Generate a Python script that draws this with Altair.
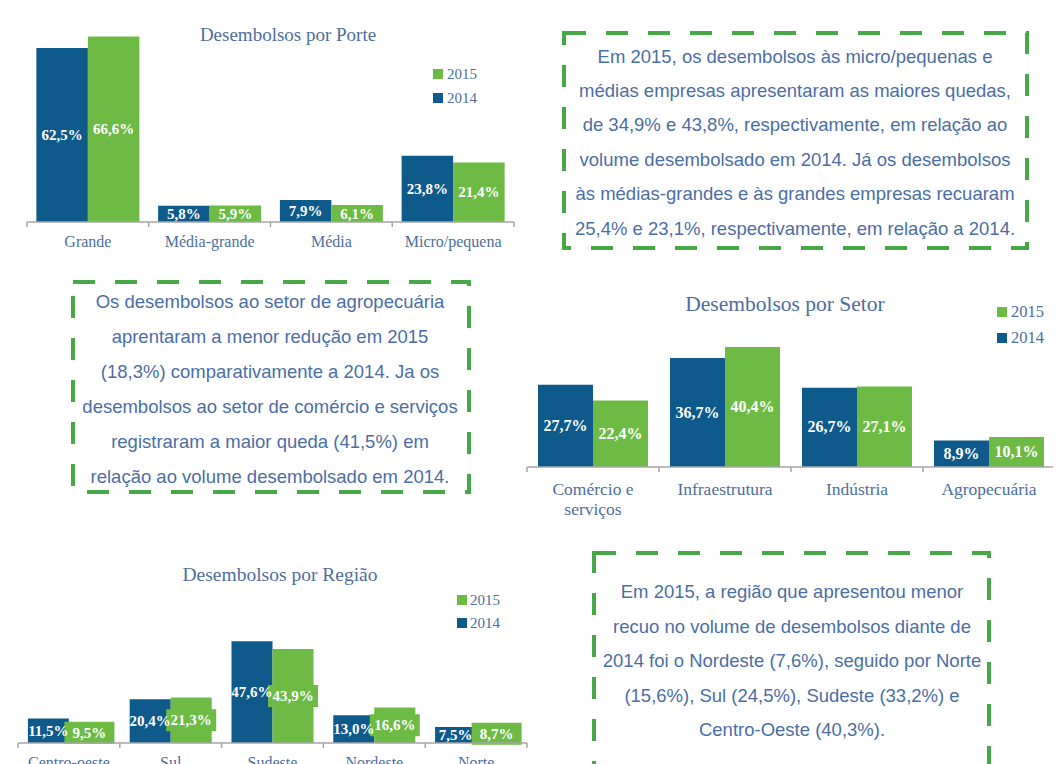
import altair as alt
import pandas as pd

# ---------------- data ----------------
YEARS = ["2014", "2015"]

porte_cats = ["Grande", "Média-grande", "Média", "Micro/pequena"]
porte_2014 = [62.5, 5.8, 7.9, 23.8]
porte_2015 = [66.6, 5.9, 6.1, 21.4]

setor_cats = ["Comércio e serviços", "Infraestrutura", "Indústria", "Agropecuária"]
setor_display = ["Comércio e\nserviços", "Infraestrutura", "Indústria", "Agropecuária"]
setor_2014 = [27.7, 36.7, 26.7, 8.9]
setor_2015 = [22.4, 40.4, 27.1, 10.1]

regiao_cats = ["Centro-oeste", "Sul", "Sudeste", "Nordeste", "Norte"]
regiao_2014 = [11.5, 20.4, 47.6, 13.0, 7.5]
regiao_2015 = [9.5, 21.3, 43.9, 16.6, 8.7]

box1_lines = [
    "Em 2015, os desembolsos às micro/pequenas e",
    "médias empresas apresentaram as maiores quedas,",
    "de 34,9% e 43,8%, respectivamente, em relação ao",
    "volume desembolsado em 2014. Já os desembolsos",
    "às médias-grandes e às grandes empresas recuaram",
    "25,4% e 23,1%, respectivamente, em relação a 2014.",
]
box2_lines = [
    "Os desembolsos ao setor de agropecuária",
    "aprentaram a menor redução em 2015",
    "(18,3%) comparativamente a 2014. Ja os",
    "desembolsos ao setor de comércio e serviços",
    "registraram a maior queda (41,5%) em",
    "relação ao volume desembolsado em 2014.",
]
box3_lines = [
    "Em 2015, a região que apresentou menor",
    "recuo no volume de desembolsos diante de",
    "2014 foi o Nordeste (7,6%), seguido por Norte",
    "(15,6%), Sul (24,5%), Sudeste (33,2%) e",
    "Centro-Oeste (40,3%).",
]

# ---------------- style ----------------
BLUE = "#0E5A8A"
GREEN = "#6DBB45"
COLORS = [BLUE, GREEN]
DASH = "#46A846"
TXT = "#4E6E9E"
BOXTXT = "#4B6EA5"
AXIS = "#A6A6A6"
SERIF = "Liberation Serif"
SANS = "Liberation Sans"
ONE = alt.Data(values=[{}])


def fmt(v):
    return f"{v:.1f}".replace(".", ",") + "%"


def long_df(cats, v14, v15):
    rows = []
    for c, a, b in zip(cats, v14, v15):
        rows.append(dict(cat=c, year="2014", value=a, mid=a / 2, label=fmt(a)))
        rows.append(dict(cat=c, year="2015", value=b, mid=b / 2, label=fmt(b)))
    return pd.DataFrame(rows)


def bar_panel(cats, display, v14, v15, xr, yr, ydom, off_pad, label_size,
              cat_size, cat_top, title, title_xy, title_size, leg_sq_x,
              leg_txt_x, leg_y, leg_size=15, green_boxes=False, box_w=50):
    df = long_df(cats, v14, v15)
    xscale = alt.Scale(domain=cats, range=xr, paddingInner=0, paddingOuter=0)
    yscale = alt.Scale(domain=ydom, range=yr)
    xs = alt.X("cat:N", sort=cats, scale=xscale, axis=None)
    xo = alt.XOffset("year:N", sort=YEARS,
                     scale=alt.Scale(domain=YEARS, paddingInner=0, paddingOuter=off_pad))
    col = alt.Color("year:N", scale=alt.Scale(domain=YEARS, range=COLORS), legend=None)

    layers = []
    bars = alt.Chart(df).mark_bar(opacity=1).encode(
        x=xs, xOffset=xo, y=alt.Y("value:Q", scale=yscale, axis=None), color=col)
    layers.append(bars)

    if green_boxes:
        gdf = df[df["year"] == "2015"]
        h = 22 / box_w
        boxes = alt.Chart(gdf).mark_point(
            shape=f"M-1,-{h:.3f}H1V{h:.3f}H-1Z", size=box_w * box_w,
            filled=True, color=GREEN, opacity=1, strokeWidth=0).encode(
            x=xs, xOffset=xo, y=alt.Y("mid:Q", scale=yscale, axis=None))
        layers.append(boxes)

    labels = alt.Chart(df).mark_text(
        font=SERIF, fontWeight="bold", fontSize=label_size, color="white",
        baseline="middle", align="center").encode(
        x=xs, xOffset=xo, y=alt.Y("mid:Q", scale=yscale, axis=None), text="label:N")
    layers.append(labels)

    cdf = pd.DataFrame({"cat": cats, "disp": display})
    catlab = alt.Chart(cdf).mark_text(
        font=SERIF, fontSize=cat_size, color=TXT, baseline="top", align="center",
        lineBreak="\n", lineHeight=20).encode(
        x=xs, y=alt.value(cat_top), text="disp:N")
    layers.append(catlab)

    base_y = yr[0]
    layers.append(alt.Chart(ONE).mark_rule(color=AXIS, strokeWidth=1.5).encode(
        x=alt.value(xr[0]), x2=alt.value(xr[1]), y=alt.value(base_y)))
    layers.append(alt.Chart(cdf).mark_rule(color=AXIS, strokeWidth=1.5).encode(
        x=alt.X("cat:N", sort=cats, scale=xscale, axis=None, bandPosition=0),
        y=alt.value(base_y), y2=alt.value(base_y + 5)))
    layers.append(alt.Chart(ONE).mark_rule(color=AXIS, strokeWidth=1.5).encode(
        x=alt.value(xr[1]), y=alt.value(base_y), y2=alt.value(base_y + 5)))

    layers.append(alt.Chart(ONE).mark_text(
        font=SERIF, fontSize=title_size, color=TXT, align="center",
        baseline="middle").encode(
        x=alt.value(title_xy[0]), y=alt.value(title_xy[1]), text=alt.value(title)))

    for yr_name, ly in zip(["2015", "2014"], leg_y):
        ldf = pd.DataFrame({"year": [yr_name]})
        layers.append(alt.Chart(ldf).mark_square(size=100, opacity=1).encode(
            x=alt.value(leg_sq_x), y=alt.value(ly), color=col))
        layers.append(alt.Chart(ldf).mark_text(
            font=SERIF, fontSize=leg_size, color=TXT, align="left",
            baseline="middle").encode(
            x=alt.value(leg_txt_x), y=alt.value(ly), text="year:N"))

    return alt.layer(*layers)


def text_box(lines, x0, x1, y0, y1, cx, first_y, step):
    layers = [alt.Chart(ONE).mark_rect(
        fillOpacity=0, stroke=DASH, strokeWidth=4, strokeDash=[22, 20]).encode(
        x=alt.value(x0), x2=alt.value(x1), y=alt.value(y0), y2=alt.value(y1))]
    for i, line in enumerate(lines):
        layers.append(alt.Chart(ONE).mark_text(
            font=SANS, fontSize=18.5, color=BOXTXT, align="center",
            baseline="middle").encode(
            x=alt.value(cx), y=alt.value(first_y + step * i), text=alt.value(line)))
    return alt.layer(*layers)


porte = bar_panel(porte_cats, porte_cats, porte_2014, porte_2015,
                  xr=[19, 506], yr=[214, 19.0], ydom=[0, 70], off_pad=0.182,
                  label_size=15, cat_size=16, cat_top=226,
                  title="Desembolsos por Porte", title_xy=(280, 27), title_size=19,
                  leg_sq_x=430, leg_txt_x=439, leg_y=[66, 90])

setor = bar_panel(setor_cats, setor_display, setor_2014, setor_2015,
                  xr=[519, 1047], yr=[459, 325.35], ydom=[0, 45], off_pad=0.2,
                  label_size=16, cat_size=17.5, cat_top=473,
                  title="Desembolsos por Setor", title_xy=(777, 297), title_size=21.5,
                  leg_sq_x=994, leg_txt_x=1003, leg_y=[304, 330], leg_size=16.5)

regiao = bar_panel(regiao_cats, regiao_cats, regiao_2014, regiao_2015,
                   xr=[10, 519], yr=[735, 628], ydom=[0, 50], off_pad=0.241,
                   label_size=15, cat_size=16, cat_top=747,
                   title="Desembolsos por Região", title_xy=(272, 567), title_size=19.5,
                   leg_sq_x=454, leg_txt_x=462, leg_y=[592, 615], green_boxes=True)

boxes = alt.layer(
    text_box(box1_lines, 556, 1019, 25, 240, 787, 48.5, 34.4),
    text_box(box2_lines, 65, 461, 274, 484, 262, 294, 35),
    text_box(box3_lines, 586, 981, 545, 790, 784, 584, 34.5),
)

chart = alt.layer(porte, setor, regiao, boxes).resolve_scale(
    x="independent", y="independent", xOffset="independent", color="independent"
).properties(
    width=1045, height=756, padding=0, autosize="none", background="white"
).configure_view(stroke=None)

chart.save("out.html", embed_options={"renderer": "svg", "actions": False})
